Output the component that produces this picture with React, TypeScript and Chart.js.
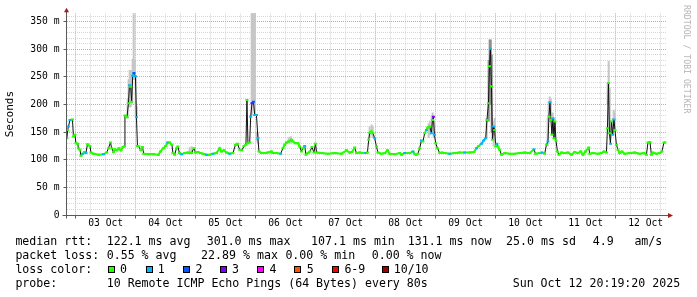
import React, { useEffect, useRef } from 'react';
import { Chart, registerables } from 'chart.js';
Chart.register(...registerables);

const FONT = '"DejaVu Sans Mono", monospace';

// ---- data ----
const lossColors = ['#26ff00', '#00b8ff', '#0059ff', '#7e00ff', '#ff00ff', '#ff5500', '#ff0000', '#a10000'];
const lossLabels = ['0', '1', '2', '3', '4', '5', '6-9', '10/10'];

// hours relative to 03 Oct 00:00
const rttHours = [
  -3.5, -3.2, -2.9, -2.3, -1.3, -0.9, -0.3, 0.1, 0.8, 1.1, 1.7, 2.1, 2.8, 3.5, 4.1, 4.7, 5.7, 6.1, 7.1, 9.1,
  11.1, 12.4, 13.1, 13.9, 14.4, 15.1, 15.7, 16.5, 17.3, 18.1, 18.9, 19.5, 19.7, 20.5, 21.1, 21.5, 22.0, 22.4, 22.8, 23.3,
  23.9, 24.3, 24.7, 25.3, 26.0, 26.7, 27.2, 29.1, 31.1, 33.1, 33.9, 35.1, 36.0, 36.8, 37.6, 38.5, 38.9, 39.6, 40.3, 40.9,
  41.5, 42.3, 43.6, 44.9, 46.3, 47.3, 47.9, 48.9, 50.0, 50.9, 52.3, 53.6, 54.9, 56.3, 57.6, 58.3, 59.3, 60.3, 61.6, 62.9,
  63.9, 64.7, 65.6, 66.5, 67.3, 68.1, 68.5, 68.9, 69.6, 70.0, 70.5, 71.1, 71.6, 72.3, 72.9, 73.3, 74.3, 75.6, 76.9, 78.3,
  78.9, 80.3, 82.0, 82.9, 83.6, 84.3, 85.2, 86.3, 86.9, 87.9, 88.9, 89.6, 90.3, 90.9, 91.6, 92.1, 92.9, 93.7, 94.5, 95.3,
  95.9, 96.4, 98.3, 100.9, 103.6, 106.3, 108.3, 109.6, 110.5, 111.6, 112.3, 113.6, 114.9, 116.0, 116.7, 117.2, 117.6, 118.3, 118.9, 119.6,
  120.3, 120.9, 122.3, 123.6, 124.7, 125.6, 127.6, 129.6, 130.3, 131.6, 133.6, 134.9, 135.6, 136.3, 136.9, 137.6, 138.3, 138.9, 139.6, 140.3,
  140.9, 141.6, 142.3, 142.7, 143.1, 143.5, 144.0, 144.7, 145.6, 146.5, 147.6, 149.6, 151.6, 153.6, 155.6, 157.6, 159.3, 160.3, 161.2, 162.3,
  163.2, 164.0, 164.5, 165.1, 165.5, 165.9, 166.3, 166.7, 167.2, 167.6, 168.0, 168.5, 168.9, 169.6, 170.3, 171.6, 173.6, 175.6, 177.6, 179.6,
  181.6, 183.3, 183.9, 185.6, 186.5, 187.6, 188.3, 188.9, 189.3, 189.7, 190.1, 190.5, 190.9, 191.3, 191.7, 192.1, 192.7, 193.3, 194.3, 195.6,
  196.9, 198.3, 199.6, 200.9, 202.0, 202.9, 203.9, 205.2, 205.6, 206.9, 208.9, 210.3, 211.3, 212.3, 212.7, 213.1, 213.5, 213.9, 214.3, 214.8,
  215.3, 215.7, 216.3, 216.9, 217.6, 218.5, 219.6, 221.6, 223.6, 225.6, 227.3, 228.3, 228.9, 229.7, 230.3, 230.9, 232.3, 233.6, 234.5, 235.3,
  235.8,
];
const rttMs = [
  139, 154, 160, 172, 173, 142, 145, 130, 129, 121, 118, 107, 111, 114, 112, 128, 125, 113, 111, 109,
  110, 113, 121, 131, 121, 114, 119, 117, 121, 117, 123, 124, 180, 177, 202, 235, 232, 205, 252, 257,
  251, 177, 125, 124, 117, 123, 111, 110, 110, 109, 115, 121, 125, 131, 131, 127, 112, 109, 121, 124,
  112, 110, 112, 113, 112, 121, 113, 114, 112, 111, 109, 109, 111, 112, 121, 115, 117, 113, 111, 112,
  127, 129, 118, 117, 125, 127, 208, 130, 131, 178, 202, 205, 181, 181, 139, 115, 112, 112, 113, 115,
  112, 112, 111, 121, 127, 131, 133, 136, 133, 130, 130, 124, 115, 121, 125, 109, 112, 115, 123, 113,
  129, 113, 112, 111, 112, 111, 117, 113, 114, 122, 112, 113, 112, 112, 113, 136, 149, 151, 148, 139,
  124, 113, 111, 112, 117, 111, 110, 112, 109, 112, 112, 115, 110, 109, 111, 121, 135, 133, 148, 154,
  159, 160, 148, 172, 178, 145, 130, 121, 112, 113, 112, 111, 112, 113, 113, 113, 114, 121, 125, 129,
  135, 139, 172, 202, 269, 301, 233, 136, 160, 154, 124, 129, 124, 118, 109, 112, 111, 111, 112, 113,
  112, 119, 111, 112, 113, 111, 127, 133, 178, 204, 172, 145, 175, 139, 169, 135, 115, 109, 113, 112,
  113, 109, 114, 112, 115, 109, 115, 122, 111, 112, 111, 112, 115, 113, 157, 239, 148, 129, 169, 145,
  173, 154, 127, 118, 112, 115, 111, 112, 113, 111, 112, 109, 131, 132, 109, 113, 111, 112, 115, 131,
  131,
];
const rttLoss = [
  0, 0, 1, 1, 0, 0, 0, 0, 0, 0, 0, 0, 1, 0, 1, 0, 0, 0, 0, 0,
  1, 0, 0, 0, 0, 0, 0, 0, 0, 0, 0, 0, 0, 0, 0, 1, 0, 0, 1, 2,
  1, 1, 0, 0, 0, 0, 0, 0, 0, 0, 0, 0, 0, 1, 0, 0, 0, 0, 0, 0,
  0, 1, 0, 0, 0, 0, 0, 0, 0, 0, 1, 0, 1, 0, 0, 0, 0, 0, 1, 0,
  0, 0, 0, 0, 0, 0, 0, 0, 0, 1, 3, 2, 1, 1, 1, 0, 0, 0, 0, 0,
  0, 0, 1, 0, 0, 0, 0, 0, 0, 0, 0, 0, 0, 0, 1, 0, 0, 0, 0, 0,
  0, 0, 0, 0, 0, 0, 0, 0, 0, 0, 0, 0, 0, 1, 0, 0, 0, 0, 0, 1,
  0, 0, 0, 0, 0, 0, 0, 0, 0, 1, 0, 1, 0, 0, 0, 0, 1, 0, 0, 1,
  0, 0, 1, 0, 3, 1, 0, 0, 0, 0, 0, 1, 0, 0, 1, 0, 0, 1, 0, 1,
  1, 1, 0, 0, 0, 1, 0, 0, 1, 0, 0, 1, 0, 0, 0, 0, 0, 0, 0, 0,
  0, 1, 0, 0, 1, 0, 0, 1, 0, 1, 0, 0, 1, 0, 0, 0, 0, 0, 0, 0,
  0, 0, 0, 0, 0, 0, 0, 0, 0, 0, 0, 0, 0, 0, 0, 0, 0, 1, 0, 1,
  1, 0, 0, 0, 0, 0, 0, 0, 0, 0, 0, 0, 0, 0, 0, 0, 0, 0, 0, 0,
  0,
];

// smoke (spread of the individual pings)
const smokeHours = [
  20.8, 21.2, 21.6, 22.0, 22.4, 22.8, 23.2, 23.6, 24.0, 24.4, 45.6, 46.4,
  70.4, 70.8, 71.2, 71.6, 72.4, 72.8, 85.2, 86.0, 117.6, 118.4, 118.8,
  141.2, 141.6, 142.4, 142.8, 143.2, 164.4, 165.2, 165.6, 166.0, 166.4, 167.2, 167.6,
  188.8, 189.2, 189.6, 190.0, 190.8, 191.6, 212.8, 213.2, 213.6, 214.8, 215.2, 215.6,
];
const smokeLow = [
  175, 200, 195, 196, 200, 245, 250, 245, 178, 178, 110, 112,
  180, 200, 200, 185, 135, 130, 130, 130, 140, 145, 140,
  140, 145, 150, 160, 140, 140, 170, 200, 200, 150, 125, 145,
  125, 170, 185, 180, 150, 140, 200, 230, 150, 150, 165, 155,
];
const smokeHigh = [
  210, 245, 262, 262, 255, 282, 365, 280, 250, 196, 122, 124,
  365, 365, 365, 365, 150, 150, 140, 142, 160, 163, 160,
  165, 170, 180, 185, 170, 175, 280, 317, 317, 290, 170, 175,
  175, 205, 214, 210, 185, 175, 240, 278, 230, 175, 190, 185,
];
const smokeDark = [
  0, 0, 0, 0, 0, 0, 0, 0, 0, 0, 0, 0,
  0, 0, 0, 0, 0, 0, 0, 0, 0, 0, 0,
  0, 0, 0, 0, 0, 0, 1, 1, 1, 1, 0, 0,
  0, 0, 0, 0, 0, 0, 0, 0, 0, 0, 0, 0,
];

const dayLabels = ['03 Oct', '04 Oct', '05 Oct', '06 Oct', '07 Oct', '08 Oct', '09 Oct', '10 Oct', '11 Oct', '12 Oct'];
const yTickValues = [0, 50, 100, 150, 200, 250, 300, 350];
const yTickLabels = ['0', '50 m', '100 m', '150 m', '200 m', '250 m', '300 m', '350 m'];

const rttStats = ['122.1 ms avg', '301.0 ms max', '107.1 ms min', '131.1 ms now', '25.0 ms sd', '4.9', 'am/s'];
const lossStats = ['0.55 % avg', '22.89 % max', '0.00 % min', '0.00 % now'];
const probeText = '10 Remote ICMP Echo Pings (64 Bytes) every 80s';
const dateText = 'Sun Oct 12 20:19:20 2025';

// ---- layout ----
const X_MIN = -3.68;
const X_MAX = 236.32;
const Y_MAX = 365;
const rttStatX = [107.3, 207.3, 311.7, 408.3, 506.7, 593.3, 635];
const lossStatX = [107.3, 201.7, 286, 372.3];
const swatchX = [108.3, 145.7, 182.7, 220, 256.7, 294.3, 331.7, 381.7];
const swatchLabelX = [120.7, 158.3, 196, 232.7, 270, 307.3, 345, 394.3];
const rowTop = [234, 248, 262, 276];

const MAJOR = 'rgba(225,130,130,0.8)';
const MINOR = 'rgba(200,200,200,0.75)';

const axesPlugin = {
  id: 'rrdAxes',
  afterDatasetsDraw(chart: any) {
    const { ctx, chartArea: ca, scales } = chart;
    const x = scales.x;
    const y = scales.y;
    const al = (p: number) => Math.round(p - 0.5) + 0.5;
    const x0 = al(ca.left);
    const y0 = al(y.getPixelForValue(0));
    ctx.save();
    ctx.strokeStyle = '#5a5a5a';
    ctx.lineWidth = 1;
    ctx.setLineDash([]);
    ctx.beginPath();
    ctx.moveTo(x0, ca.top - 2);
    ctx.lineTo(x0, y0 + 3);
    ctx.moveTo(x0 - 4, y0);
    ctx.lineTo(ca.right + 2, y0);
    for (let d = 0; d <= 9; d++) {
      const px = al(x.getPixelForValue(d * 24));
      ctx.moveTo(px, y0);
      ctx.lineTo(px, y0 + 3);
    }
    yTickValues.forEach((v) => {
      const py = al(y.getPixelForValue(v));
      ctx.moveTo(x0 - 3, py);
      ctx.lineTo(x0, py);
    });
    ctx.stroke();
    ctx.fillStyle = '#a01e1e';
    ctx.beginPath();
    ctx.moveTo(x0 - 2.5, ca.top - 1);
    ctx.lineTo(x0 + 2.5, ca.top - 1);
    ctx.lineTo(x0, ca.top - 5.5);
    ctx.closePath();
    ctx.fill();
    ctx.beginPath();
    ctx.moveTo(ca.right + 1.5, y0 - 2.5);
    ctx.lineTo(ca.right + 1.5, y0 + 2.5);
    ctx.lineTo(ca.right + 6.5, y0);
    ctx.closePath();
    ctx.fill();
    ctx.restore();
  },
};

export default function App() {
  const ref = useRef<HTMLCanvasElement>(null);

  useEffect(() => {
    const canvas = ref.current;
    if (!canvas) return;
    const pts = rttHours.map((h, i) => ({ x: h, y: rttMs[i] }));
    const smoke = smokeHours.map((h, i) => ({ x: h, y: [smokeLow[i], smokeHigh[i]] }));
    const xTicks = Array.from({ length: 40 }, (_, i) => i * 6);
    const yTicks = Array.from({ length: 37 }, (_, i) => i * 10);

    const chart = new Chart(canvas, {
      type: 'line',
      data: {
        datasets: [
          {
            type: 'bar',
            data: smoke as any,
            backgroundColor: smokeDark.map((d) => (d ? '#8e8e8e' : '#c6c6c6')),
            borderWidth: 0,
            barThickness: 1.4,
            grouped: false,
            order: 3,
          } as any,
          {
            type: 'line',
            data: pts,
            borderColor: '#111111',
            borderWidth: 1,
            pointRadius: 0,
            tension: 0,
            order: 2,
          },
          {
            type: 'line',
            data: pts,
            borderColor: lossColors[0],
            borderWidth: 2,
            tension: 0,
            pointStyle: 'line',
            pointRadius: 1.5,
            pointBorderWidth: 2,
            pointBorderColor: rttLoss.map((l) => lossColors[l]),
            pointBackgroundColor: rttLoss.map((l) => lossColors[l]),
            segment: {
              borderColor: (c: any) => {
                const dx = Math.abs(c.p1.x - c.p0.x);
                const dy = Math.abs(c.p1.y - c.p0.y);
                if (dy > 1.5 * dx + 1) return 'rgba(0,0,0,0)';
                return lossColors[Math.min(rttLoss[c.p0DataIndex], rttLoss[c.p1DataIndex])];
              },
            },
            order: 1,
          } as any,
        ],
      },
      options: {
        animation: false,
        responsive: false,
        devicePixelRatio: 1,
        events: [],
        layout: { padding: { left: 0, right: 30.5, top: 13.3, bottom: 0 } },
        plugins: { legend: { display: false }, tooltip: { enabled: false }, title: { display: false } },
        scales: {
          x: {
            type: 'linear',
            min: X_MIN,
            max: X_MAX,
            offset: false,
            afterFit: (s: any) => {
              s.height = 82;
            },
            afterBuildTicks: (s: any) => {
              s.ticks = xTicks.map((v) => ({ value: v }));
            },
            grid: {
              display: true,
              drawTicks: false,
              offset: false,
              lineWidth: 1,
              color: (c: any) => (c.tick && c.tick.value % 24 === 0 ? MAJOR : MINOR),
            },
            border: { display: false, dash: [1, 1] },
            ticks: {
              autoSkip: false,
              maxRotation: 0,
              minRotation: 0,
              padding: 3,
              color: '#000',
              font: { family: FONT, size: 9.7 },
              callback: (v: any) => {
                const n = Number(v);
                return n % 24 === 12 ? dayLabels[Math.floor(n / 24)] : '';
              },
            },
          },
          y: {
            type: 'linear',
            min: 0,
            max: Y_MAX,
            afterFit: (s: any) => {
              s.width = 66.5;
            },
            afterBuildTicks: (s: any) => {
              s.ticks = yTicks.map((v) => ({ value: v }));
            },
            grid: {
              display: true,
              drawTicks: false,
              lineWidth: 1,
              color: (c: any) => (c.tick && c.tick.value % 50 === 0 ? MAJOR : MINOR),
            },
            border: { display: false, dash: [1, 1] },
            title: {
              display: true,
              text: 'Seconds',
              color: '#000',
              font: { family: FONT, size: 11 },
              padding: { top: 4, bottom: 4 },
            },
            ticks: {
              autoSkip: false,
              padding: 7,
              color: '#000',
              font: { family: FONT, size: 9.7 },
              callback: (v: any) => {
                const i = yTickValues.indexOf(Number(v));
                return i >= 0 ? yTickLabels[i] : '';
              },
            },
          },
        },
      },
      plugins: [axesPlugin],
    } as any);
    return () => chart.destroy();
  }, []);

  const txt: React.CSSProperties = {
    position: 'absolute',
    font: `11.6px ${FONT}`,
    lineHeight: '14px',
    whiteSpace: 'pre',
    color: '#000',
  };

  return (
    <div style={{ position: 'fixed', left: 0, top: 0, width: 697, height: 297, background: '#fff', overflow: 'hidden' }}>
      <canvas ref={ref} width={697} height={297} style={{ position: 'absolute', left: 0, top: 0, width: 697, height: 297 }} />
      <div
        style={{
          position: 'absolute',
          left: 692,
          top: 5,
          transform: 'rotate(90deg)',
          transformOrigin: '0 0',
          font: `8.2px ${FONT}`,
          lineHeight: '10px',
          color: '#b4b4b4',
          whiteSpace: 'pre',
        }}
      >
        RRDTOOL / TOBI OETIKER
      </div>
      <div style={{ ...txt, left: 15.4, top: rowTop[0] }}>median rtt:</div>
      {rttStats.map((s, i) => (
        <div key={'r' + i} style={{ ...txt, left: rttStatX[i] - 0.6, top: rowTop[0] }}>{s}</div>
      ))}
      <div style={{ ...txt, left: 15.4, top: rowTop[1] }}>packet loss:</div>
      {lossStats.map((s, i) => (
        <div key={'l' + i} style={{ ...txt, left: lossStatX[i] - 0.6, top: rowTop[1] }}>{s}</div>
      ))}
      <div style={{ ...txt, left: 15.4, top: rowTop[2] }}>loss color:</div>
      {lossLabels.map((s, i) => (
        <React.Fragment key={'c' + i}>
          <div
            style={{
              position: 'absolute',
              left: swatchX[i],
              top: 266,
              width: 7,
              height: 7,
              boxSizing: 'border-box',
              border: '1px solid #000',
              background: lossColors[i],
            }}
          />
          <div style={{ ...txt, left: swatchLabelX[i] - 0.6, top: rowTop[2] }}>{s}</div>
        </React.Fragment>
      ))}
      <div style={{ ...txt, left: 15.4, top: rowTop[3] }}>probe:</div>
      <div style={{ ...txt, left: 106.7, top: rowTop[3] }}>{probeText}</div>
      <div style={{ ...txt, left: 512.7, top: rowTop[3] }}>{dateText}</div>
    </div>
  );
}
